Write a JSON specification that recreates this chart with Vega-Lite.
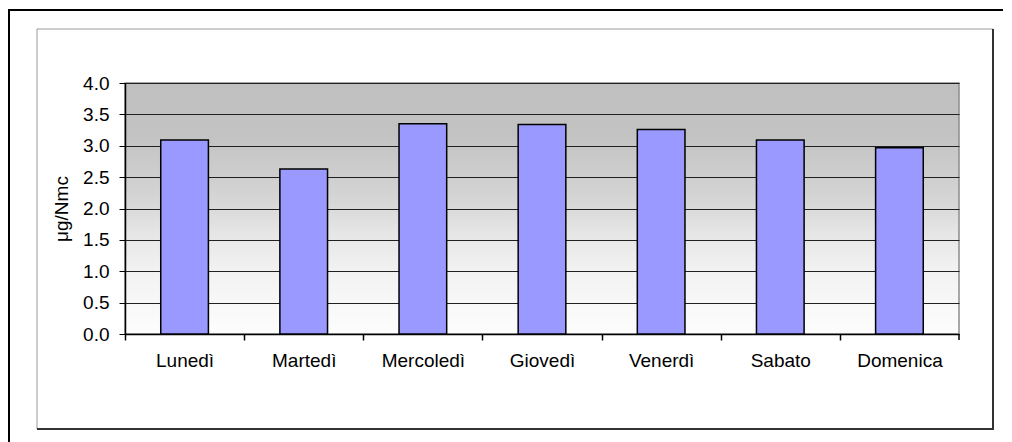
{
  "$schema": "https://vega.github.io/schema/vega-lite/v6.json",
  "width": 834,
  "height": 251,
  "autosize": {"type": "none"},
  "padding": {"left": 125, "top": 83, "right": 53, "bottom": 108},
  "background": "white",
  "config": {
    "font": "Liberation Sans",
    "view": {
      "stroke": "#8c8c8c",
      "strokeWidth": 1.5,
      "fill": {
        "gradient": "linear",
        "x1": 0, "y1": 0, "x2": 0, "y2": 1,
        "stops": [
          {"offset": 0, "color": "#c0c0c0"},
          {"offset": 0.2, "color": "#c2c2c2"},
          {"offset": 0.45, "color": "#d4d4d4"},
          {"offset": 0.6, "color": "#e6e6e6"},
          {"offset": 0.75, "color": "#f2f2f2"},
          {"offset": 1, "color": "#fdfdfd"}
        ]
      }
    },
    "axis": {
      "labelFont": "Liberation Sans",
      "titleFont": "Liberation Sans",
      "labelColor": "#000000",
      "titleColor": "#000000",
      "domainColor": "#000000",
      "tickColor": "#000000",
      "labelFontSize": 19,
      "titleFontSize": 19,
      "titleFontWeight": "normal"
    }
  },
  "layer": [
    {
      "data": {
        "values": [
          {"giorno": "Lunedì", "valore": 3.09},
          {"giorno": "Martedì", "valore": 2.63},
          {"giorno": "Mercoledì", "valore": 3.35},
          {"giorno": "Giovedì", "valore": 3.34},
          {"giorno": "Venerdì", "valore": 3.26},
          {"giorno": "Sabato", "valore": 3.09},
          {"giorno": "Domenica", "valore": 2.97}
        ]
      },
      "mark": {"type": "bar", "fill": "#9999ff", "stroke": "#000000", "strokeWidth": 1.5},
      "encoding": {
        "x": {
          "field": "giorno",
          "type": "nominal",
          "sort": null,
          "scale": {"paddingInner": 0.6, "paddingOuter": 0.3},
          "axis": {
            "title": null,
            "labelAngle": 0,
            "labelPadding": 11,
            "tickSize": 6,
            "tickWidth": 1.5,
            "tickOffset": -59.57,
            "labelOffset": 59.57,
            "domainWidth": 1.5
          }
        },
        "y": {
          "field": "valore",
          "type": "quantitative",
          "scale": {"domain": [0, 4], "nice": false},
          "axis": {
            "title": "μg/Nmc",
            "values": [0, 0.5, 1, 1.5, 2, 2.5, 3, 3.5, 4],
            "format": ".1f",
            "grid": true,
            "gridColor": "#202020",
            "gridWidth": 1,
            "tickSize": 6,
            "labelPadding": 10,
            "titlePadding": 11,
            "domainWidth": 1.5
          }
        }
      }
    },
    {
      "data": {"values": [{}]},
      "mark": {"type": "rule", "stroke": "#000000", "strokeWidth": 1.5},
      "encoding": {
        "x": {"value": 834},
        "y": {"value": 251},
        "y2": {"value": 257}
      }
    },
    {
      "data": {"values": [{}]},
      "mark": {"type": "rect", "fill": null, "stroke": "#9a9a9a", "strokeWidth": 1},
      "encoding": {
        "x": {"value": -88},
        "x2": {"value": 868},
        "y": {"value": -54},
        "y2": {"value": 346}
      }
    },
    {
      "data": {"values": [{}]},
      "mark": {"type": "rule", "stroke": "#333333", "strokeWidth": 2},
      "encoding": {
        "x": {"value": 868},
        "y": {"value": -54},
        "y2": {"value": 346}
      }
    },
    {
      "data": {"values": [{}]},
      "mark": {"type": "rule", "stroke": "#333333", "strokeWidth": 2},
      "encoding": {
        "x": {"value": -88},
        "x2": {"value": 869},
        "y": {"value": 346}
      }
    },
    {
      "data": {"values": [{}]},
      "mark": {"type": "rule", "stroke": "#000000", "strokeWidth": 2},
      "encoding": {
        "x": {"value": -116},
        "x2": {"value": 878},
        "y": {"value": -73}
      }
    },
    {
      "data": {"values": [{}]},
      "mark": {"type": "rule", "stroke": "#000000", "strokeWidth": 2},
      "encoding": {
        "x": {"value": -116},
        "y": {"value": -74},
        "y2": {"value": 360}
      }
    }
  ]
}
